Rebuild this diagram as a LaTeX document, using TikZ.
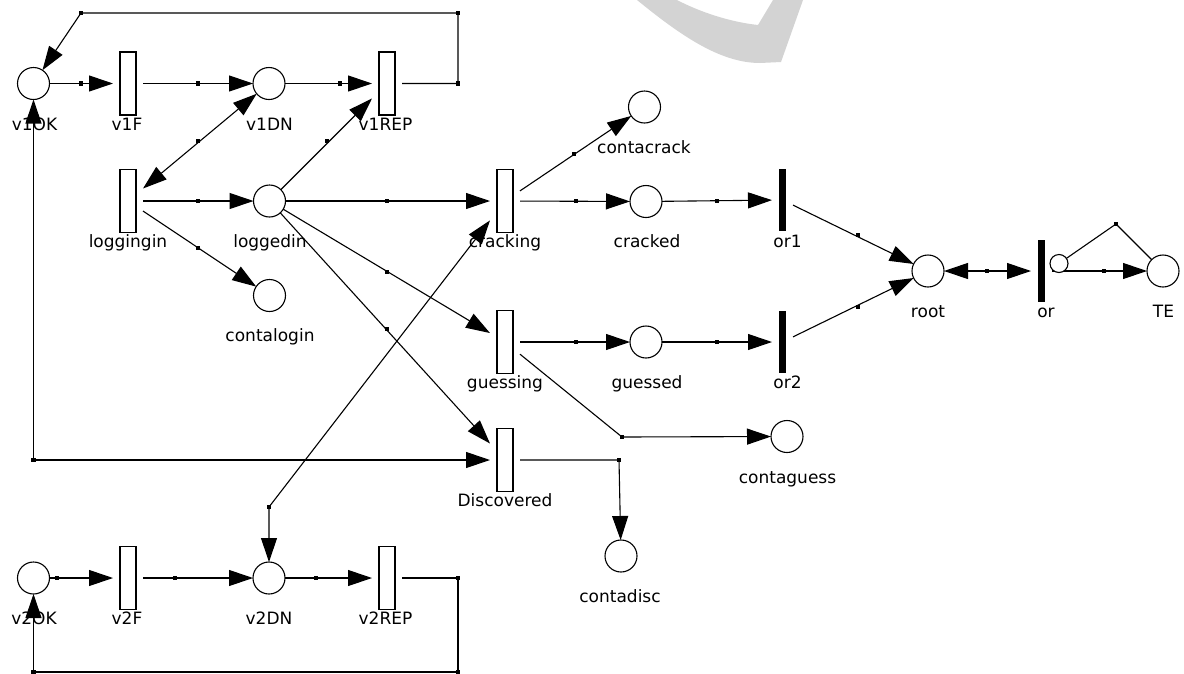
\documentclass[tikz,border=0pt]{standalone}
\usepackage{fontspec}
\setmainfont{DejaVu Sans}
\usetikzlibrary{arrows.meta}
\begin{document}
\begin{tikzpicture}[x=1pt,y=-1pt,
 place/.style={circle, draw, line width=1.1pt, minimum size=32pt, inner sep=0pt, outer sep=0pt, fill=white},
 trans/.style={rectangle, draw, line width=1.1pt, minimum width=16pt, minimum height=63pt, inner sep=0pt, outer xsep=7pt, outer ysep=0pt},
 barT/.style={rectangle, fill=black, minimum width=7pt, minimum height=62pt, inner sep=0pt, outer xsep=7pt, outer ysep=0pt},
 lbl/.style={anchor=base, inner sep=0pt, font=\fontsize{17}{20}\selectfont},
 arc/.style={line width=1.1pt, -{Triangle[length=24pt,width=16pt]}},
 biarc/.style={line width=1.1pt, {Triangle[length=24pt,width=16pt]}-{Triangle[length=24pt,width=16pt]}},
 plainarc/.style={line width=1.1pt},
 hdot/.style={rectangle, fill=black, minimum size=4.5pt, inner sep=0pt},
 inhib/.style={circle, draw, line width=1.1pt, minimum size=18pt, inner sep=0pt, outer sep=0pt, fill=white},
 wmark/.style={fill={rgb,255:red,211;green,211;blue,211}, draw=none}
]
\useasboundingbox (0,0) rectangle (1184,673);
% watermark
\fill[wmark] (637,0) .. controls (680,35) and (720,63) .. (760,63) -- (781,62) -- (803,0) -- (773,0) -- (758,25) .. controls (730,22) and (700,12) .. (677,0) -- cycle;

% places
\node[place] (v1OK) at (33.5,83.5) {};
\node[place] (v1DN) at (269,83.5) {};
\node[place] (loggedin) at (269.5,201) {};
\node[place] (contalogin) at (269.5,295.5) {};
\node[place] (contacrack) at (644.5,107) {};
\node[place] (cracked) at (646,201.5) {};
\node[place] (guessed) at (646,342) {};
\node[place] (root) at (928,271) {};
\node[place] (TE) at (1163,271) {};
\node[place] (contaguess) at (787,436.5) {};
\node[place] (contadisc) at (621,556) {};
\node[place] (v2OK) at (33.5,578) {};
\node[place] (v2DN) at (269,578) {};
% transitions
\node[trans] (v1F) at (128,83.5) {};
\node[trans] (v1REP) at (387,83.5) {};
\node[trans] (loggingin) at (128,201) {};
\node[trans] (cracking) at (505,201) {};
\node[trans] (guessing) at (505,342) {};
\node[trans] (Discovered) at (505,460) {};
\node[trans] (v2F) at (128,578) {};
\node[trans] (v2REP) at (387,578) {};
\node[barT] (or1) at (782.5,200) {};
\node[barT] (or2) at (782.5,342) {};
\node[barT] (orT) at (1041.5,271) {};

% labels
\node[lbl] (lv1OK) at (34.5,130) {v1OK};
\node[lbl] (lv1F) at (127,130) {v1F};
\node[lbl] (lv1DN) at (269.5,130) {v1DN};
\node[lbl] (lv1REP) at (385.5,130) {v1REP};
\node[lbl] (llogging) at (128,247) {loggingin};
\node[lbl] (llogged) at (270,247) {loggedin};
\node[lbl] (lcracking) at (505,247) {cracking};
\node[lbl] (lcontalogin) at (270,341) {contalogin};
\node[lbl] (lcontacrack) at (644,153) {contacrack};
\node[lbl] (lcracked) at (647,247) {cracked};
\node[lbl] (lor1) at (787.5,247) {or1};
\node[lbl] (lguessing) at (505,388) {guessing};
\node[lbl] (lguessed) at (647,388) {guessed};
\node[lbl] (lor2) at (787.5,388) {or2};
\node[lbl] (lroot) at (928,317) {root};
\node[lbl] (lor) at (1046,317) {or};
\node[lbl] (lTE) at (1163.5,317) {TE};
\node[lbl] (lcontaguess) at (787.5,483) {contaguess};
\node[lbl] (lDiscovered) at (505,506) {Discovered};
\node[lbl] (lcontadisc) at (620,602) {contadisc};
\node[lbl] (lv2OK) at (34,624) {v2OK};
\node[lbl] (lv2F) at (127,624) {v2F};
\node[lbl] (lv2DN) at (269,624) {v2DN};
\node[lbl] (lv2REP) at (385.5,624) {v2REP};

% bend points
\coordinate (a1) at (458,83.5);
\coordinate (a2) at (458,13);
\coordinate (a3) at (81,13);
\coordinate (c1) at (33.5,460);
\coordinate (c2) at (269,507);
\coordinate (c3) at (622,437);
\coordinate (c4) at (619,460);
\coordinate (e1) at (458,578);
\coordinate (e2) at (458,672);
\coordinate (e3) at (33.5,672);
\coordinate (t1) at (1116,224);

% arcs
\draw[arc] (v1OK) -- (v1F);
\draw[arc] (v1F) -- (v1DN);
\draw[arc] (v1DN) -- (v1REP);
\draw[arc] (v1REP) -- (a1) -- (a2) -- (a3) -- (v1OK);
\draw[biarc] (loggingin) -- (v1DN);
\draw[arc] (loggingin) -- (loggedin);
\draw[arc] (loggingin) -- (contalogin);
\draw[arc] (loggedin) -- (v1REP);
\draw[arc] (loggedin) -- (cracking);
\draw[arc] (loggedin) -- (guessing);
\draw[arc] (loggedin) -- (Discovered);
\draw[arc] (cracking) -- (contacrack);
\draw[arc] (cracking) -- (cracked);
\draw[arc] (cracked) -- (or1);
\draw[arc] (guessing) -- (guessed);
\draw[arc] (guessed) -- (or2);
\draw[arc] (or1) -- (root);
\draw[arc] (or2) -- (root);
\draw[biarc] (root) -- (orT);
\draw[arc] (guessing) -- (c3) -- (contaguess);
\draw[arc] (Discovered) -- (c4) -- (contadisc);
\draw[biarc] (v1OK) -- (c1) -- (Discovered);
\draw[biarc] (cracking) -- (c2) -- (v2DN);
\draw[arc] (v2OK) -- (v2F);
\draw[arc] (v2F) -- (v2DN);
\draw[arc] (v2DN) -- (v2REP);
\draw[arc] (v2REP) -- (e1) -- (e2) -- (e3) -- (v2OK);
\draw[arc] (orT) -- (TE);
\node[inhib] (inh) at (1059,263.5) {};
\draw[plainarc] (TE) -- (t1) -- (inh);

% arc handles
\foreach \p [count=\i] in {(81,83.5),(198,83.5),(340,83.5),(a1),(a2),(a3),
  (198,141),(198,201),(198,248),(327,141),(387,201),(387,272),(387,329),
  (574,154),(576,201),(717,201),(576,342),(717,342),(858,235),(858,307),
  (987,271),(1104,271),(t1),(c1),(c2),(c3),(c4),
  (57,578),(175,578),(316,578),(e1),(e2),(e3)}
  \node[hdot] (h\i) at \p {};
\end{tikzpicture}
\end{document}
